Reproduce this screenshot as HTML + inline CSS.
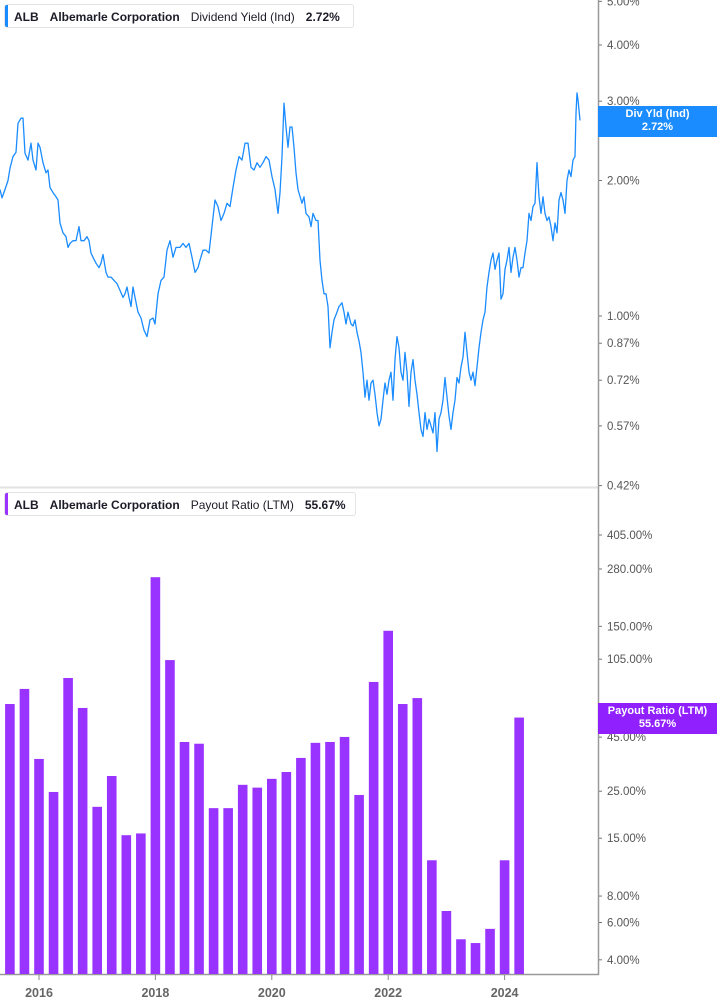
<!DOCTYPE html>
<html><head><meta charset="utf-8">
<style>
html,body{margin:0;padding:0;background:#fff;width:717px;height:1005px;overflow:hidden;font-family:"Liberation Sans",sans-serif;}
.legend{position:absolute;left:4px;height:24px;background:#fff;border:1px solid #e4e4e8;border-radius:3px;font-size:12px;color:#1c1c28;line-height:24px;white-space:nowrap;box-sizing:border-box;padding-left:9px;}
.legend .bar{position:absolute;left:0;top:0;width:3px;height:100%;border-radius:2px 0 0 2px;}
.legend b{font-weight:bold;}
.legend span{margin-right:11px;}
.flag{position:absolute;left:598px;width:119px;color:#fff;font-weight:bold;font-size:11px;text-align:center;line-height:13px;padding-top:2px;box-sizing:border-box;}
</style></head>
<body>
<svg id="chart" width="717" height="1005" style="position:absolute;left:0;top:0">
  <g id="grid">
    <line x1="0" y1="487.5" x2="598" y2="487.5" stroke="#e2e2e2" stroke-width="2"/>
    <line x1="598.5" y1="0" x2="598.5" y2="975" stroke="#999" stroke-width="1.5"/>
    <line x1="0" y1="974.5" x2="599" y2="974.5" stroke="#999" stroke-width="1.5"/>
  </g>
  <g id="yieldAxis"></g>
  <g id="payoutAxis"></g>
  <g id="xAxis"></g>
  <g id="bars"></g>
  <path id="yieldLine" fill="none" stroke="#1a8cff" stroke-width="1.3" stroke-linejoin="round"/>
</svg>

<div class="legend" style="top:4px;width:350px">
  <div class="bar" style="background:#1a8cff"></div>
  <span><b>ALB</b></span><span><b>Albemarle Corporation</b></span><span>Dividend Yield (Ind)</span><b>2.72%</b>
</div>
<div class="legend" style="top:492px;width:352px">
  <div class="bar" style="background:#9a33ff"></div>
  <span><b>ALB</b></span><span><b>Albemarle Corporation</b></span><span>Payout Ratio (LTM)</span><b>55.67%</b>
</div>
<div class="flag" style="top:106px;height:31px;background:#1a8cff">Div Yld (Ind)<br>2.72%</div>
<div class="flag" style="top:703px;height:31px;background:#9120ff">Payout Ratio (LTM)<br>55.67%</div>

<script>
const yieldDates=[2015.330,2015.364,2015.416,2015.467,2015.502,2015.553,2015.605,2015.639,2015.691,2015.725,2015.760,2015.811,2015.863,2015.897,2015.949,2015.983,2016.017,2016.069,2016.120,2016.155,2016.189,2016.241,2016.292,2016.327,2016.361,2016.412,2016.464,2016.498,2016.533,2016.584,2016.636,2016.687,2016.722,2016.773,2016.825,2016.859,2016.894,2016.928,2016.979,2017.031,2017.065,2017.100,2017.151,2017.186,2017.237,2017.289,2017.340,2017.392,2017.443,2017.478,2017.512,2017.546,2017.581,2017.615,2017.650,2017.701,2017.753,2017.804,2017.856,2017.907,2017.959,2017.993,2018.045,2018.096,2018.148,2018.199,2018.251,2018.302,2018.354,2018.423,2018.474,2018.526,2018.577,2018.629,2018.680,2018.732,2018.766,2018.818,2018.869,2018.921,2018.973,2019.024,2019.076,2019.127,2019.179,2019.230,2019.282,2019.333,2019.385,2019.436,2019.488,2019.540,2019.591,2019.643,2019.694,2019.746,2019.797,2019.849,2019.900,2019.952,2020.003,2020.055,2020.107,2020.141,2020.175,2020.210,2020.244,2020.278,2020.313,2020.347,2020.381,2020.416,2020.450,2020.519,2020.553,2020.588,2020.639,2020.673,2020.708,2020.760,2020.794,2020.828,2020.863,2020.897,2020.931,2020.966,2021.000,2021.034,2021.069,2021.120,2021.155,2021.206,2021.241,2021.275,2021.309,2021.361,2021.395,2021.430,2021.464,2021.498,2021.533,2021.567,2021.601,2021.636,2021.670,2021.705,2021.739,2021.773,2021.808,2021.842,2021.876,2021.911,2021.945,2021.979,2022.014,2022.048,2022.083,2022.117,2022.151,2022.186,2022.220,2022.254,2022.289,2022.323,2022.358,2022.392,2022.426,2022.461,2022.495,2022.529,2022.564,2022.598,2022.633,2022.667,2022.701,2022.736,2022.770,2022.804,2022.839,2022.873,2022.907,2022.942,2022.976,2023.011,2023.045,2023.079,2023.114,2023.148,2023.182,2023.217,2023.251,2023.285,2023.320,2023.354,2023.388,2023.423,2023.457,2023.492,2023.526,2023.560,2023.595,2023.629,2023.663,2023.698,2023.732,2023.766,2023.801,2023.835,2023.870,2023.904,2023.938,2023.973,2024.007,2024.041,2024.076,2024.110,2024.144,2024.179,2024.213,2024.248,2024.282,2024.316,2024.351,2024.385,2024.419,2024.454,2024.488,2024.522,2024.557,2024.591,2024.625,2024.660,2024.694,2024.729,2024.763,2024.797,2024.832,2024.866,2024.900,2024.935,2024.969,2025.003,2025.038,2025.072,2025.107,2025.141,2025.175,2025.210,2025.227,2025.244,2025.261,2025.278,2025.295];
const yieldValues=[1.91,1.83,1.91,2.00,2.13,2.26,2.31,2.68,2.75,2.75,2.30,2.22,2.42,2.22,2.11,2.42,2.37,2.19,2.08,2.11,1.93,1.88,1.84,1.81,1.61,1.53,1.50,1.42,1.45,1.47,1.47,1.58,1.47,1.47,1.50,1.47,1.38,1.35,1.31,1.28,1.31,1.37,1.25,1.22,1.22,1.20,1.18,1.14,1.10,1.12,1.16,1.10,1.05,1.16,1.10,1.02,0.99,0.93,0.90,0.98,0.99,0.96,1.12,1.20,1.22,1.40,1.47,1.35,1.42,1.42,1.45,1.42,1.45,1.35,1.25,1.28,1.33,1.40,1.40,1.38,1.58,1.81,1.75,1.63,1.69,1.78,1.75,1.93,2.11,2.26,2.22,2.42,2.42,2.14,2.11,2.19,2.14,2.19,2.26,2.22,2.04,1.91,1.69,1.88,2.26,2.97,2.63,2.37,2.63,2.63,2.37,2.08,1.91,1.78,1.84,1.69,1.66,1.58,1.69,1.63,1.63,1.33,1.20,1.12,1.12,1.05,0.85,0.92,0.98,1.02,1.05,1.07,1.02,0.96,1.02,0.96,0.95,0.98,0.92,0.88,0.83,0.75,0.66,0.72,0.65,0.71,0.72,0.67,0.61,0.57,0.59,0.65,0.71,0.67,0.72,0.75,0.65,0.80,0.90,0.85,0.75,0.72,0.83,0.75,0.63,0.75,0.80,0.72,0.67,0.61,0.56,0.54,0.61,0.56,0.59,0.57,0.55,0.61,0.50,0.59,0.61,0.65,0.73,0.66,0.60,0.56,0.61,0.65,0.73,0.71,0.77,0.81,0.92,0.83,0.75,0.72,0.75,0.70,0.77,0.85,0.92,0.98,1.02,1.16,1.25,1.33,1.38,1.27,1.33,1.38,1.09,1.12,1.27,1.33,1.42,1.25,1.35,1.42,1.33,1.22,1.28,1.28,1.38,1.47,1.69,1.63,1.75,1.78,2.19,1.84,1.69,1.84,1.69,1.63,1.66,1.58,1.47,1.61,1.53,1.81,1.88,1.81,1.69,2.00,2.11,2.04,2.22,2.26,2.82,3.13,3.02,2.87,2.72];
const payoutQuarters=[2015.5,2015.75,2016.0,2016.25,2016.5,2016.75,2017.0,2017.25,2017.5,2017.75,2018.0,2018.25,2018.5,2018.75,2019.0,2019.25,2019.5,2019.75,2020.0,2020.25,2020.5,2020.75,2021.0,2021.25,2021.5,2021.75,2022.0,2022.25,2022.5,2022.75,2023.0,2023.25,2023.5,2023.75,2024.0,2024.25];
const payoutValues=[64.5,76,35.5,24.8,85.6,61.8,21.1,29.5,15.5,15.8,256,104,42.7,41.9,20.8,20.8,26.8,26.0,28.6,30.8,35.9,42.3,42.7,45.1,24,82,143,64.5,68.8,11.8,6.8,5.0,4.8,5.6,11.8,55.67];
const yieldTicks=[5,4,3,2,1,0.87,0.72,0.57,0.42];
const payoutTicks=[405,280,150,105,45,25,15,8,6,4];
const yearTicks=[2016,2018,2020,2022,2024];

const NS='http://www.w3.org/2000/svg';
const xScale=d=>39+(d-2016)*58.2;
const yYield=v=>316-Math.log(v)*195.5;
const yPay=v=>535+(Math.log(405)-Math.log(v))*92;

function mk(tag,attrs,parent,text){const e=document.createElementNS(NS,tag);for(const k in attrs)e.setAttribute(k,attrs[k]);if(text!==undefined)e.textContent=text;parent.appendChild(e);return e;}

const ya=document.getElementById('yieldAxis');
yieldTicks.forEach(t=>{
  const y=yYield(t);
  const tk=mk('line',{x1:599,x2:602,y1:y,y2:y,stroke:'#777'},ya);
  
  
  const lb=mk('text',{x:607,y:y+4,'font-size':11.5,fill:'#555','font-family':'Liberation Sans, sans-serif'},ya,t.toFixed(2)+'%');
  
  
});
const pa=document.getElementById('payoutAxis');
payoutTicks.forEach(t=>{
  const y=yPay(t);
  const tk=mk('line',{x1:599,x2:602,y1:y,y2:y,stroke:'#777'},pa);
  
  
  const lb=mk('text',{x:607,y:y+4,'font-size':11.5,fill:'#555','font-family':'Liberation Sans, sans-serif'},pa,t.toFixed(2)+'%');
  
  
});
const xa=document.getElementById('xAxis');
yearTicks.forEach(yr=>{
  const x=xScale(yr);
  const tk=mk('line',{x1:x,x2:x,y1:975,y2:980,stroke:'#888'},xa);
  
  
  const lb=mk('text',{x:x,y:997,'font-size':12.5,'font-weight':'bold',fill:'#666','text-anchor':'middle','font-family':'Liberation Sans, sans-serif'},xa,String(yr));
  
  
});
const bg=document.getElementById('bars');
payoutQuarters.forEach((q,i)=>{
  const x=xScale(q), y=yPay(payoutValues[i]);
  const r=mk('rect',{x:x-4.8,y:y,width:9.6,height:974-y,fill:'#9933ff'},bg);
  
  
});
let d='';
yieldDates.forEach((t,i)=>{d+=(i?'L':'M')+xScale(t).toFixed(1)+','+yYield(yieldValues[i]).toFixed(1);});
document.getElementById('yieldLine').setAttribute('d',d);
</script>
</body></html>
